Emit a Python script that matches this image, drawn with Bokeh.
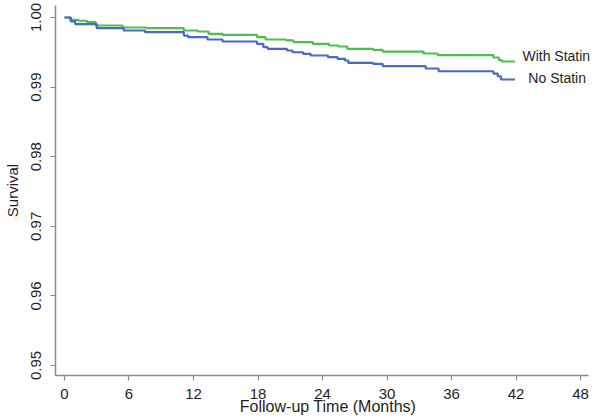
from bokeh.plotting import figure
from bokeh.models import Range1d, FixedTicker, Label, NumeralTickFormatter
from bokeh.embed import file_html
from bokeh.resources import INLINE

# With Statin (months, survival)
statin_t = [0, 0.5, 1.3, 2.1, 2.9, 5.4, 7.6, 11.1, 12.4, 13.4, 14.7, 17.9, 18.7, 20.6, 21.3,
            23.1, 24.6, 25.5, 26.3, 28.7, 29.6, 33.4, 34.7, 39.9, 40.4, 40.7, 41.9]
statin_s = [1.0, 0.99967, 0.99953, 0.99933, 0.99885, 0.99856, 0.99846, 0.99813, 0.99799,
            0.99766, 0.99751, 0.99717, 0.99684, 0.99670, 0.99645, 0.99622, 0.99598, 0.99583,
            0.99550, 0.99536, 0.99511, 0.99483, 0.99460, 0.99425, 0.99388, 0.99368, 0.99368]

# No Statin (months, survival)
nostatin_t = [0, 0.6, 1.0, 3.0, 5.5, 7.5, 11.1, 11.5, 13.3, 14.7, 17.9, 18.5, 18.9, 20.7, 21.2,
              22.2, 22.9, 24.5, 25.4, 26.1, 26.4, 28.7, 29.6, 33.6, 34.8, 39.9, 40.3, 40.6, 41.9]
nostatin_s = [1.0, 0.99943, 0.99905, 0.99846, 0.99813, 0.99789, 0.99741, 0.99717, 0.99684,
              0.99655, 0.99622, 0.99573, 0.99550, 0.99526, 0.99501, 0.99478, 0.99454, 0.99430,
              0.99406, 0.99382, 0.99349, 0.99335, 0.99300, 0.99267, 0.99228, 0.99195, 0.99156,
              0.99109, 0.99109]

x_ticks = [0, 6, 12, 18, 24, 30, 36, 42, 48]
y_ticks = [0.95, 0.96, 0.97, 0.98, 0.99, 1.00]
labels = ["With Statin", "No Statin"]
x_title = "Follow-up Time (Months)"
y_title = "Survival"

FONT = "Liberation Sans"
TXT = "#1e1e1e"
AX = "#8a8a8a"

X0, X1 = -0.837, 49.86
Y0, Y1 = 0.948563, 1.001724

p = figure(frame_width=545, frame_height=370, output_backend="svg", toolbar_location=None,
           x_range=Range1d(X0, X1), y_range=Range1d(Y0, Y1),
           min_border_left=55, min_border_right=0, min_border_top=5, min_border_bottom=44)
p.outline_line_color = None
p.grid.visible = False
p.background_fill_color = "white"
p.border_fill_color = "white"

p.step(statin_t, statin_s, mode="after", line_color="#4cbf4c", line_width=2.2)
p.step(nostatin_t, nostatin_s, mode="after", line_color="#4a68c4", line_width=2.2)

p.add_layout(Label(x=42.6, y=0.99454, text=labels[0], text_baseline="middle",
                   text_font=FONT, text_font_size="14px", text_color=TXT))
p.add_layout(Label(x=43.15, y=0.99124, text=labels[1], text_baseline="middle",
                   text_font=FONT, text_font_size="14px", text_color=TXT))

xa = p.xaxis[0]
xa.ticker = FixedTicker(ticks=x_ticks)
xa.bounds = (X0, 48.74)
xa.axis_label = x_title
xa.minor_tick_line_color = None
xa.major_tick_in = 0
xa.major_tick_out = 5
xa.major_label_standoff = 8
xa.axis_label_standoff = -4
xa.axis_line_color = AX
xa.major_tick_line_color = AX
xa.axis_line_width = 1.5
xa.major_tick_line_width = 1.2
xa.major_label_text_font = FONT
xa.major_label_text_font_size = "15px"
xa.major_label_text_color = TXT
xa.axis_label_text_font = FONT
xa.axis_label_text_font_size = "16px"
xa.axis_label_text_font_style = "normal"
xa.axis_label_text_color = TXT

ya = p.yaxis[0]
ya.ticker = FixedTicker(ticks=y_ticks)
ya.formatter = NumeralTickFormatter(format="0.00")
ya.axis_label = y_title
ya.minor_tick_line_color = None
ya.major_tick_in = 0
ya.major_tick_out = 5
ya.major_label_standoff = 9
ya.axis_label_standoff = 8
ya.major_label_orientation = "vertical"
ya.axis_line_color = AX
ya.major_tick_line_color = AX
ya.axis_line_width = 1.5
ya.major_tick_line_width = 1.2
ya.major_label_text_font = FONT
ya.major_label_text_font_size = "15px"
ya.major_label_text_color = TXT
ya.axis_label_text_font = FONT
ya.axis_label_text_font_size = "15px"
ya.axis_label_text_font_style = "normal"
ya.axis_label_text_color = TXT

open("out.html", "w").write(file_html(p, INLINE))
